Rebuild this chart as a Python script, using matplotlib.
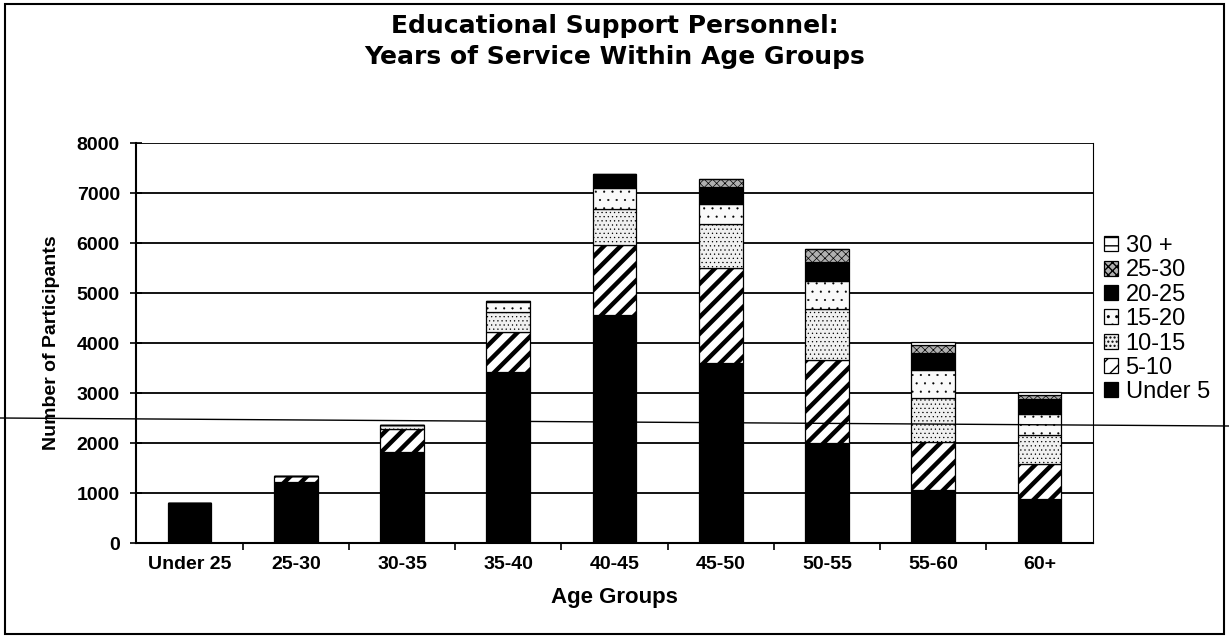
import matplotlib.pyplot as plt
import numpy as np
from matplotlib.patches import Rectangle
from matplotlib.lines import Line2D

plt.rcParams['font.family'] = ['Liberation Sans', 'DejaVu Sans']

age_groups = ['Under 25', '25-30', '30-35', '35-40', '40-45', '45-50', '50-55', '55-60', '60+']
series_names = ['Under 5', '5-10', '10-15', '15-20', '20-25', '25-30', '30 +']

under_5 = [800, 1230, 1820, 3420, 4560, 3610, 2000, 1060, 890]
yrs_5_10 = [0, 120, 470, 810, 1400, 1900, 1670, 970, 690]
yrs_10_15 = [0, 0, 70, 390, 730, 880, 1020, 870, 580]
yrs_15_20 = [0, 0, 0, 210, 410, 400, 550, 570, 430]
yrs_20_25 = [0, 0, 0, 10, 290, 330, 390, 330, 300]
yrs_25_30 = [0, 0, 0, 0, 0, 170, 250, 170, 80]
yrs_30_plus = [0, 0, 0, 0, 0, 0, 0, 50, 50]

series = [under_5, yrs_5_10, yrs_10_15, yrs_15_20, yrs_20_25, yrs_25_30, yrs_30_plus]
styles = [
    dict(facecolor='black', hatch=None, lw=1.0),
    dict(facecolor='white', hatch='//', lw=3.2),
    dict(facecolor='#f0f0f0', hatch='....', lw=0.4),
    dict(facecolor='#fafafa', hatch='..', lw=0.3),
    dict(facecolor='black', hatch=None, lw=1.0),
    dict(facecolor='#b0b0b0', hatch='xxxx', lw=0.5),
    dict(facecolor='white', hatch='--', lw=0.6),
]

fig = plt.figure(figsize=(12.29, 6.42), dpi=100)
ax = fig.add_axes([0.111, 0.154, 0.778, 0.623])

x = np.arange(len(age_groups))
bottom = np.zeros(len(age_groups))
handles = []
for name, vals, st in zip(series_names, series, styles):
    vals = np.array(vals, dtype=float)
    with plt.rc_context({'hatch.linewidth': st['lw']}):
        b = ax.bar(x, vals, width=0.41, bottom=bottom, color=st['facecolor'],
                   hatch=st['hatch'], edgecolor='black', linewidth=0.9, label=name, zorder=3)
    handles.append(b)
    bottom += vals

ax.set_ylim(0, 8000)
ax.set_xlim(-0.5, len(age_groups) - 0.5)
ax.set_yticks(np.arange(0, 8001, 1000))
ax.set_xticks(x)
ax.set_xticklabels(age_groups, fontweight='bold', fontsize=14)
for lab in ax.get_yticklabels():
    lab.set_fontweight('bold')
    lab.set_fontsize(14)
ax.yaxis.grid(True, color='black', linewidth=1.3, zorder=0)
ax.set_xticks(np.arange(0.5, len(age_groups) - 0.5, 1), minor=True)
ax.tick_params(axis='x', which='major', length=0, pad=9)
ax.tick_params(axis='x', which='minor', length=5, width=1.2, direction='out')
ax.tick_params(axis='y', length=8, width=1.2, direction='inout', pad=8)
for side in ['left', 'bottom']:
    ax.spines[side].set_linewidth(1.5)
ax.spines['top'].set_visible(False)
ax.spines['right'].set_linewidth(0.8)
ax.spines['right'].set_linestyle((0, (2, 1)))

ax.set_xlabel('Age Groups', fontweight='bold', fontsize=16, labelpad=10)
ax.set_ylabel('Number of Participants', fontweight='bold', fontsize=14, labelpad=12)

fig.text(0.5, 0.978, 'Educational Support Personnel:\nYears of Service Within Age Groups',
         ha='center', va='top', fontweight='bold', fontsize=18, linespacing=1.35,
         family='DejaVu Sans')

leg = ax.legend(handles[::-1], series_names[::-1], loc='center left', bbox_to_anchor=(0.99, 0.56),
                frameon=False, fontsize=17, handlelength=0.6, handleheight=0.6,
                handletextpad=0.3, labelspacing=0.1, borderaxespad=0.5)

fig.patches.append(Rectangle((0.004, 0.012), 0.992, 0.982, transform=fig.transFigure,
                             fill=False, edgecolor='black', linewidth=1.5))
# scanner streak that runs across the page
fig.add_artist(Line2D([0.0, 1.0], [1 - 418 / 642, 1 - 426 / 642], transform=fig.transFigure,
                      color='black', linewidth=1.0, zorder=10))

fig.savefig('out.png', dpi=100)
